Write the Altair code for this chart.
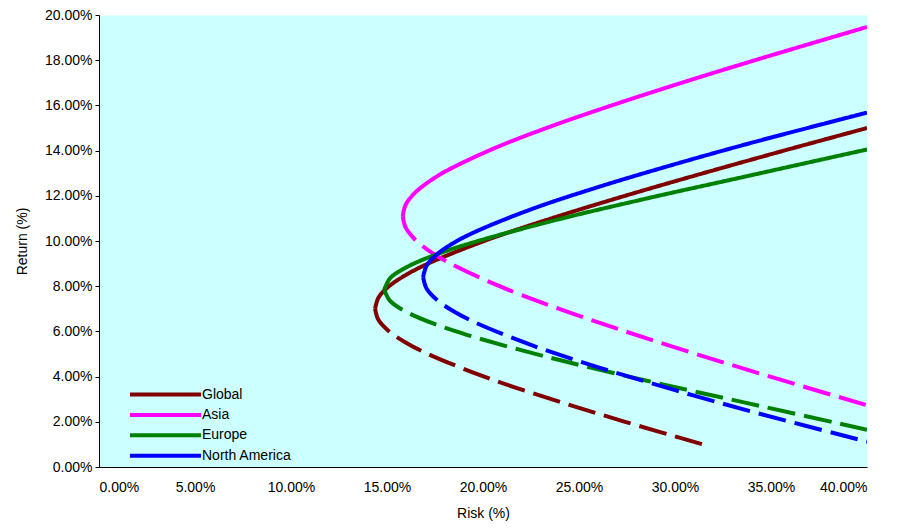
import altair as alt
import pandas as pd

series_names = ["Global", "Asia", "Europe", "North America"]
series_colors = ["#800000", "#FF00FF", "#008000", "#0000FF"]

# Global
g_up_ret = [7.0, 7.5, 8.0, 8.5, 9.0, 10.0, 11.0, 12.0, 13.0, 14.0, 15.0]
g_up_risk = [14.38, 14.56, 15.11, 15.99, 17.14, 20.06, 23.56, 27.40, 31.47, 35.68, 40.0]
g_lo_ret = [7.0, 6.5, 6.0, 5.5, 5.0, 4.0, 3.0, 2.0, 0.94]
g_lo_risk = [14.38, 14.56, 15.11, 15.99, 17.14, 20.06, 23.56, 27.40, 31.7]

# Asia
a_up_ret = [11.1, 11.6, 12.1, 12.6, 13.1, 14.1, 15.1, 16.1, 17.1, 18.1, 19.47]
a_up_risk = [15.82, 15.97, 16.42, 17.14, 18.09, 20.58, 23.63, 27.06, 30.72, 34.56, 40.0]
a_lo_ret = [11.1, 10.6, 10.1, 9.6, 9.1, 8.1, 7.1, 6.1, 5.1, 4.1, 2.73]
a_lo_risk = [15.82, 15.97, 16.42, 17.14, 18.09, 20.58, 23.63, 27.06, 30.72, 34.56, 40.0]

# Europe
e_up_ret = [7.85, 8.35, 8.85, 9.35, 9.85, 10.85, 11.85, 12.85, 14.05]
e_up_risk = [14.86, 15.16, 16.04, 17.40, 19.15, 23.43, 28.36, 33.65, 40.0]
e_lo_ret = [7.85, 7.35, 6.85, 6.35, 5.85, 4.85, 3.85, 2.85, 1.65]
e_lo_risk = [14.86, 15.16, 16.04, 17.40, 19.15, 23.43, 28.36, 33.65, 40.0]

# North America
n_up_ret = [8.4, 8.9, 9.4, 9.9, 10.4, 11.4, 12.4, 13.4, 14.4, 15.68]
n_up_risk = [16.88, 17.06, 17.59, 18.44, 19.58, 22.50, 26.05, 30.00, 34.22, 40.0]
n_lo_ret = [8.4, 7.9, 7.4, 6.9, 6.4, 5.4, 4.4, 3.4, 2.4, 1.12]
n_lo_risk = [16.88, 17.06, 17.59, 18.44, 19.58, 22.50, 26.05, 30.00, 34.22, 40.0]

x_ticks = [0, 5, 10, 15, 20, 25, 30, 35, 40]
y_ticks = [0, 2, 4, 6, 8, 10, 12, 14, 16, 18, 20]

rows = []
curves = [
    ("Global", g_up_risk, g_up_ret, g_lo_risk, g_lo_ret),
    ("Asia", a_up_risk, a_up_ret, a_lo_risk, a_lo_ret),
    ("Europe", e_up_risk, e_up_ret, e_lo_risk, e_lo_ret),
    ("North America", n_up_risk, n_up_ret, n_lo_risk, n_lo_ret),
]
for name, ur, uy, lr, ly in curves:
    for i, (r, y) in enumerate(zip(ur, uy)):
        rows.append({"series": name, "branch": "upper", "idx": i, "risk": r, "ret": y})
    for i, (r, y) in enumerate(zip(lr, ly)):
        rows.append({"series": name, "branch": "lower", "idx": i, "risk": r, "ret": y})
df = pd.DataFrame(rows)

font = "Liberation Sans"

chart = alt.Chart(df).mark_line(strokeWidth=4, interpolate="catmull-rom", clip=True).encode(
    x=alt.X("risk:Q", scale=alt.Scale(domain=[0, 40], nice=False),
            axis=alt.Axis(values=x_ticks, title="Risk (%)", ticks=False, labelPadding=13,
                          titlePadding=12,
                          labelExpr="format(datum.value, '.2f') + '%'")),
    y=alt.Y("ret:Q", scale=alt.Scale(domain=[0, 20], nice=False),
            axis=alt.Axis(values=y_ticks, title="Return (%)", tickSize=4, labelPadding=3,
                          titlePadding=15,
                          labelExpr="format(datum.value, '.2f') + '%'")),
    color=alt.Color("series:N", scale=alt.Scale(domain=series_names, range=series_colors),
                    legend=alt.Legend(title=None, orient="none", legendX=57, legendY=370,
                                      symbolType="M-5,0H5", symbolSize=202,
                                      symbolStrokeWidth=4, labelOffset=27,
                                      labelFontSize=14, labelFont=font, labelColor="black",
                                      rowPadding=2.4)),
    strokeDash=alt.StrokeDash("branch:N", scale=alt.Scale(domain=["upper", "lower"],
                                                           range=[[1, 0], [28, 9]]),
                              legend=None),
    order="idx:Q",
).properties(
    width=768, height=452,
    padding={"left": 91, "top": 7, "right": 30, "bottom": 57},
    autosize=alt.AutoSizeParams(type="none"),
).configure_view(
    fill="#CCFFFF", stroke="transparent"
).configure_axis(
    grid=False, domainColor="black", tickColor="black", labelColor="black",
    titleColor="black", labelFont=font, titleFont=font, labelFontSize=14,
    titleFontSize=14, titleFontWeight="normal", domainWidth=1
)

chart.save("out.html", embed_options={"renderer": "svg", "actions": False})
